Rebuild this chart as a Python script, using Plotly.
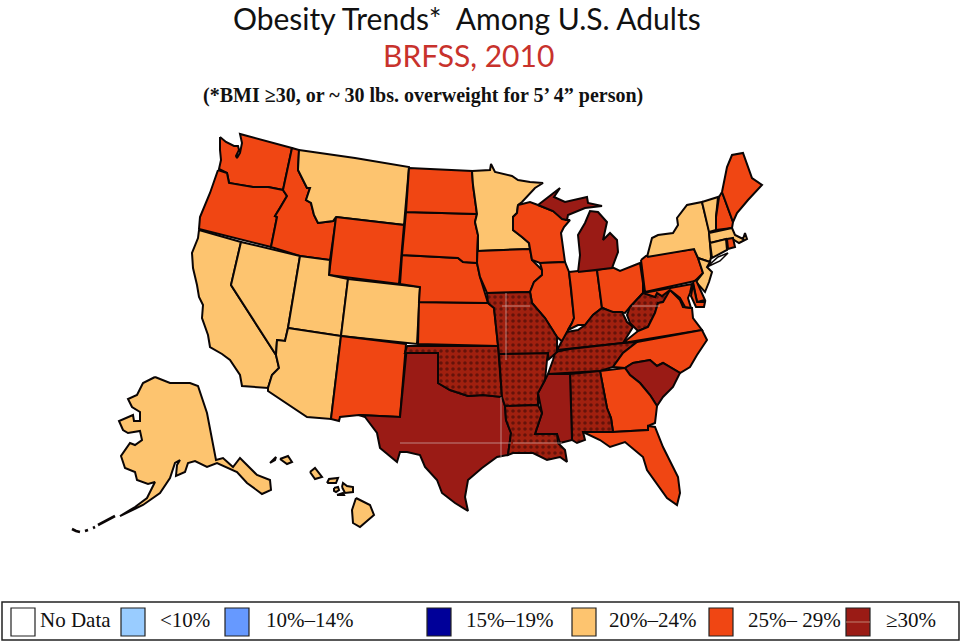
import plotly.graph_objects as go

# ---- legend ----
LEGEND_LABELS = ["No Data", "<10%", "10%–14%", "15%–19%", "20%–24%", "25%– 29%", "≥30%"]
LEGEND_COLORS = ["#FFFFFF", "#99CCFF", "#6699FF", "#000099", "#FDC46F", "#F04613", "#9A1B15"]
LEGEND_SWATCH_X = [11, 121, 225, 427, 572, 709, 846]
LEGEND_TEXT_X = [75, 185, 310, 510, 653, 794, 911]

# ---- obesity class by state (reading the 2010 map) ----
CLASS_20_24 = ["CA", "NV", "UT", "CO", "AZ", "MT", "MN", "NY", "VT", "MA", "CT", "NJ", "AK", "HI"]
CLASS_25_29 = ["WA", "OR", "ID", "WY", "ND", "SD", "NE", "KS", "NM", "IA", "WI", "IL", "IN", "OH",
               "PA", "VA", "NC", "GA", "FL", "ME", "NH", "RI", "DE", "MD"]
CLASS_30_PLAIN = ["TX", "MS", "SC", "MI"]
CLASS_30_DOTTED = ["OK", "MO", "AR", "LA", "AL", "TN", "KY", "WV"]

# ---- state outlines (map coordinates) ----
WA = [[(220,137),(226,142),(234,146),(238,146),(239,150),(236,156),(237,158),(240,153),(242,143),(240,134),
       (292,148),(283,190),(268,187),(253,187),(240,185),(229,183),(227,173),(219,169),(221,160),(220,150)]]
OR = [[(218,170),(227,173),(229,183),(240,185),(253,187),(268,187),(283,190),(287,196),(280,208),(275,216),
       (277,217),(271,247),(199,229),(200,217),(210,193)]]
ID = [[(292,148),(299,150),(298,170),(307,188),(310,188),(306,200),(311,203),(314,215),(318,223),(333,221),
       (336,219),(330,260),(300,256),(271,247),(277,217),(275,216),(280,208),(287,196),(283,190)]]
MT = [[(299,150),(355,158),(409,167),(404,225),(336,217),(333,221),(318,223),(314,215),(311,203),(306,200),
       (310,188),(307,188),(298,170)]]
WY = [[(336,217),(404,225),(399,284),(329,275)]]
CA = [[(199,230),(241,242),(231,285),(276,355),(279,368),(272,375),(268,388),(242,386),(240,375),(230,360),
       (222,354),(210,347),(208,335),(202,318),(203,305),(199,297),(197,285),(193,268),(192,253),(198,238)]]
NV = [[(241,242),(300,256),(288,328),(285,341),(277,340),(276,355),(231,285)]]
UT = [[(300,256),(330,260),(329,275),(348,279),(341,336),(288,328)]]
CO = [[(348,279),(420,287),(417,344),(341,336)]]
AZ = [[(288,328),(341,336),(331,419),(307,417),(268,391),(268,388),(272,375),(279,368),(276,355),(277,340),(285,341)]]
NM = [[(341,336),(406,344),(400,417),(359,415),(340,417),(339,421),(331,419)]]
TX = [[(407,346),(405,353),(438,353),(438,383),(450,390),(468,396),(483,395),(502,397),(505,406),(506,420),
       (511,433),(508,455),(497,457),(482,468),(468,480),(465,497),(468,511),(455,503),(442,493),(437,480),
       (425,467),(420,455),(407,452),(400,452),(397,462),(380,448),(377,433),(365,417),(359,415),(400,417)]]
OK = [[(407,346),(498,346),(500,372),(502,397),(483,395),(468,396),(450,390),(438,383),(438,353),(405,353)]]
KS = [[(419,302),(488,303),(494,308),(498,346),(418,344)]]
NE = [[(402,255),(458,258),(463,262),(477,263),(480,277),(488,303),(419,302),(420,287),(400,284)]]
SD = [[(406,212),(477,214),(475,222),(478,235),(477,263),(463,262),(458,258),(402,255)]]
ND = [[(409,168),(472,171),(473,185),(477,214),(406,212)]]
MN = [[(472,171),(490,170),(491,164),(495,172),(512,176),(518,180),(530,182),(543,183),(535,188),(522,202),
       (518,205),(517,213),(513,217),(513,230),(522,237),(529,243),(530,249),(478,251),(478,235),(475,222),
       (477,214),(473,185)]]
IA = [[(478,251),(530,249),(532,260),(542,270),(542,275),(534,282),(530,292),(487,293),(480,277),(477,263),(478,235)]]
WI = [[(518,205),(530,202),(538,205),(553,211),(566,220),(570,220),(564,227),(561,233),(565,262),(540,263),
       (532,260),(530,249),(529,243),(522,237),(513,230),(513,217),(517,213)]]
IL = [[(540,263),(565,262),(569,272),(571,288),(574,318),(572,323),(568,330),(563,342),(557,337),(545,318),
       (532,303),(530,292),(534,282),(542,275),(542,270)]]
IN = [[(569,272),(578,271),(597,270),(602,308),(593,315),(585,325),(578,325),(568,330),(572,323),(574,318),(571,288)]]
OH = [[(597,270),(612,267),(620,271),(640,263),(643,283),(643,293),(630,307),(625,313),(620,312),(613,313),(603,308),(602,308)]]
MI = [[(578,272),(612,268),(618,252),(617,240),(610,233),(603,240),(607,222),(598,212),(590,211),(585,223),(578,235),(580,255)],
      [(538,205),(553,193),(560,188),(554,197),(565,202),(587,197),(588,203),(602,206),(585,208),(568,215),(567,220),(562,219),(553,211)]]
KY = [[(557,350),(567,332),(578,330),(585,325),(593,315),(602,308),(613,312),(622,312),(627,322),(633,327),(623,343),(570,349)]]
TN = [[(555,352),(570,349),(623,343),(637,342),(623,353),(613,367),(600,371),(548,374),(553,360)]]
WV = [[(630,307),(643,293),(643,283),(645,293),(655,297),(657,293),(662,296),(670,289),(675,293),(663,302),
       (658,303),(655,313),(648,327),(638,331),(630,323),(627,315)]]
VA = [[(623,343),(638,331),(648,327),(655,313),(658,303),(663,302),(670,290),(680,300),(683,307),(692,308),
       (693,318),(697,323),(702,330)]]
NC = [[(637,342),(702,330),(707,340),(697,355),(690,367),(680,373),(663,363),(657,366),(650,360),(633,363),
       (625,368),(613,367),(623,353)]]
SC = [[(625,368),(633,363),(650,360),(657,366),(663,363),(680,373),(673,387),(663,397),(657,406),(650,395),(640,383),(630,375)]]
GA = [[(600,371),(625,368),(630,375),(640,383),(650,395),(657,406),(655,423),(648,426),(648,430),(613,432),(611,418),(607,408)]]
AL = [[(570,374),(600,371),(607,408),(611,418),(613,432),(583,432),(585,440),(577,443),(572,440)]]
MS = [[(548,374),(570,374),(572,440),(560,443),(557,434),(535,434),(542,413),(538,393),(545,380)]]
AR = [[(499,354),(548,353),(547,360),(545,380),(538,393),(538,405),(505,406),(502,397)]]
MO = [[(487,293),(530,292),(532,303),(545,318),(557,337),(557,352),(548,360),(548,353),(499,354),(498,346),(494,308),(488,303)]]
LA = [[(505,406),(538,405),(542,413),(535,434),(557,434),(558,443),(565,450),(567,462),(560,457),(547,460),
       (533,453),(513,453),(508,455),(511,433),(506,420)]]
FL = [[(583,432),(613,432),(648,430),(648,426),(655,427),(663,447),(678,477),(680,493),(677,505),(667,498),
       (647,470),(643,457),(625,442),(610,447),(600,440)]]
PA = [[(641,260),(646,256),(694,249),(698,258),(703,273),(695,281),(645,292)]]
NY = [[(647,257),(652,238),(658,235),(673,233),(678,225),(677,218),(687,205),(702,202),(709,230),(711,257),
       (710,262),(698,258),(694,249)]]
LONG_ISLAND = [[(707,267),(718,257),(728,253),(720,261)]]
NJ = [[(698,258),(710,262),(707,267),(712,272),(709,282),(705,292),(696,282),(703,273)]]
VT = [[(702,202),(718,197),(716,217),(716,230),(709,232)]]
NH = [[(722,192),(733,222),(732,228),(716,230),(716,217),(719,197)]]
ME = [[(722,192),(727,167),(732,155),(743,153),(752,178),(762,185),(748,200),(737,213),(733,222)]]
MA = [[(709,233),(732,228),(735,235),(743,239),(745,233),(747,239),(739,243),(734,240),(727,239),(710,243)]]
CT = [[(710,243),(726,239),(727,250),(712,258)]]
RI = [[(727,239),(733,238),(735,247),(728,249)]]
DE = [[(693,282),(696,280),(705,300),(697,302)]]
MD = [[(643,293),(692,284),(690,293),(688,298),(691,308),(685,307),(680,298),(670,290),(662,296),(657,293),(655,297),(645,293)],
      [(693,284),(697,302),(705,302),(704,307),(696,307),(691,296)]]
AK = [[(155,377),(170,383),(190,383),(198,386),(207,413),(216,460),(223,458),(233,467),(240,458),(257,475),
       (270,480),(271,490),(262,494),(247,483),(237,472),(217,463),(207,467),(195,461),(188,463),(185,472),
       (176,476),(177,465),(180,460),(175,463),(170,478),(160,493),(143,505),(120,516),(135,507),(147,498),
       (155,482),(148,484),(137,480),(135,472),(125,468),(121,456),(130,443),(135,445),(142,440),(140,431),
       (128,433),(123,430),(119,421),(133,415),(134,421),(140,421),(140,412),(132,407),(128,399),(137,395),(143,383)]]
ALEUTIANS = [[(98,525),(108,520),(115,516)], [(72,529),(76,531),(80,532)], [(85,531),(88,530)], [(93,528),(95,527)]]
HI = [[(270,463),(276,457),(275,460)],
      [(280,459),(288,456),(292,462),(287,464)],
      [(310,472),(315,468),(322,477),(315,479)],
      [(327,483),(329,479),(338,478),(336,483)],
      [(334,488),(338,487),(339,490),(336,492),(334,491)],
      [(342,487),(343,483),(347,486),(353,487),(353,492),(345,493)],
      [(337,495),(343,493),(344,495)],
      [(356,498),(370,505),(374,515),(360,527),(353,523),(352,510)]]

OUTLINES = dict(WA=WA, OR=OR, ID=ID, MT=MT, WY=WY, CA=CA, NV=NV, UT=UT, CO=CO, AZ=AZ, NM=NM, TX=TX, OK=OK,
                KS=KS, NE=NE, SD=SD, ND=ND, MN=MN, IA=IA, WI=WI, IL=IL, IN=IN, OH=OH, MI=MI, KY=KY, TN=TN,
                WV=WV, VA=VA, NC=NC, SC=SC, GA=GA, AL=AL, MS=MS, AR=AR, MO=MO, LA=LA, FL=FL, PA=PA, NY=NY,
                NJ=NJ, VT=VT, NH=NH, ME=ME, MA=MA, CT=CT, RI=RI, DE=DE, MD=MD, AK=AK, HI=HI)

# faint seams visible in the source image
SEAMS = [[(400,443),(511,443)], [(513,443),(562,443)], [(501,397),(501,457)], [(506,293),(506,360)],
         [(502,306),(530,306)], [(632,306),(660,306)]]


def flatten(parts, close=True):
    xs, ys = [], []
    for part in parts:
        closed = part + part[:1] if close else part
        xs += [p[0] for p in closed] + [None]
        ys += [p[1] for p in closed] + [None]
    return xs[:-1], ys[:-1]


fig = go.Figure()
for state, parts in OUTLINES.items():
    x, y = flatten(parts)
    kw = {}
    if state in CLASS_20_24:
        color = LEGEND_COLORS[4]
    elif state in CLASS_25_29:
        color = LEGEND_COLORS[5]
    elif state in CLASS_30_PLAIN:
        color = LEGEND_COLORS[6]
    else:
        color = "#9B1C10"
        kw["fillpattern"] = dict(shape=".", bgcolor="#A0200F", fgcolor="#2A0505", size=6, solidity=0.28)
    fig.add_trace(go.Scatter(x=x, y=y, mode="lines", fill="toself", fillcolor=color, name=state,
                             line=dict(color="#0A0505", width=2), hoverinfo="name", **kw))

x, y = flatten(LONG_ISLAND)
fig.add_trace(go.Scatter(x=x, y=y, mode="lines", fill="toself", fillcolor="#FFFFFF", name="Long Island",
                         line=dict(color="#0A0505", width=1.5), hoverinfo="name"))
x, y = flatten(ALEUTIANS, close=False)
fig.add_trace(go.Scatter(x=x, y=y, mode="lines", name="Aleutians",
                         line=dict(color="#0A0505", width=2.6), hoverinfo="name"))

for seg in SEAMS:
    fig.add_trace(go.Scatter(x=[p[0] for p in seg], y=[p[1] for p in seg], mode="lines",
                             line=dict(color="rgba(205,170,165,0.75)", width=1), hoverinfo="skip"))

shapes = [dict(type="rect", x0=2, x1=959, y0=602, y1=640, line=dict(color="#222222", width=1.5), fillcolor="white", layer="below")]
annotations = []
for label, col, sx, tx in zip(LEGEND_LABELS, LEGEND_COLORS, LEGEND_SWATCH_X, LEGEND_TEXT_X):
    shapes.append(dict(type="rect", x0=sx, x1=sx + 24, y0=608, y1=636, fillcolor=col,
                       line=dict(color="#222222", width=1.2), layer="below"))
    annotations.append(dict(x=tx, y=620, text=label, showarrow=False, xanchor="center", yanchor="middle",
                            font=dict(family="Liberation Serif", size=21, color="#111111")))
shapes.append(dict(type="line", x0=846, x1=870, y0=622, y1=622, line=dict(color="#C08070", width=1)))

annotations += [
    dict(x=467, y=18, text="Obesity Trends*  Among U.S. Adults", showarrow=False, xanchor="center", yanchor="middle",
         font=dict(family="Lato", size=30, color="#111111")),
    dict(x=468, y=55, text="BRFSS, 2010", showarrow=False, xanchor="center", yanchor="middle",
         font=dict(family="Lato", size=30, color="#C8322C")),
    dict(x=423, y=95, text="<b>(*BMI ≥30, or ~ 30 lbs. overweight for 5’ 4” person)</b>", showarrow=False,
         xanchor="center", yanchor="middle", font=dict(family="Liberation Serif", size=20, color="#111111")),
]

fig.update_layout(
    width=960, height=644, margin=dict(l=0, r=0, t=0, b=0), showlegend=False,
    paper_bgcolor="white", plot_bgcolor="white",
    xaxis=dict(range=[0, 960], visible=False, fixedrange=True),
    yaxis=dict(range=[644, 0], visible=False, fixedrange=True),
    shapes=shapes, annotations=annotations,
)
fig.write_html("out.html", config={"displayModeBar": False},
               post_script="document.body.style.margin='0';document.documentElement.style.overflow='hidden';")
